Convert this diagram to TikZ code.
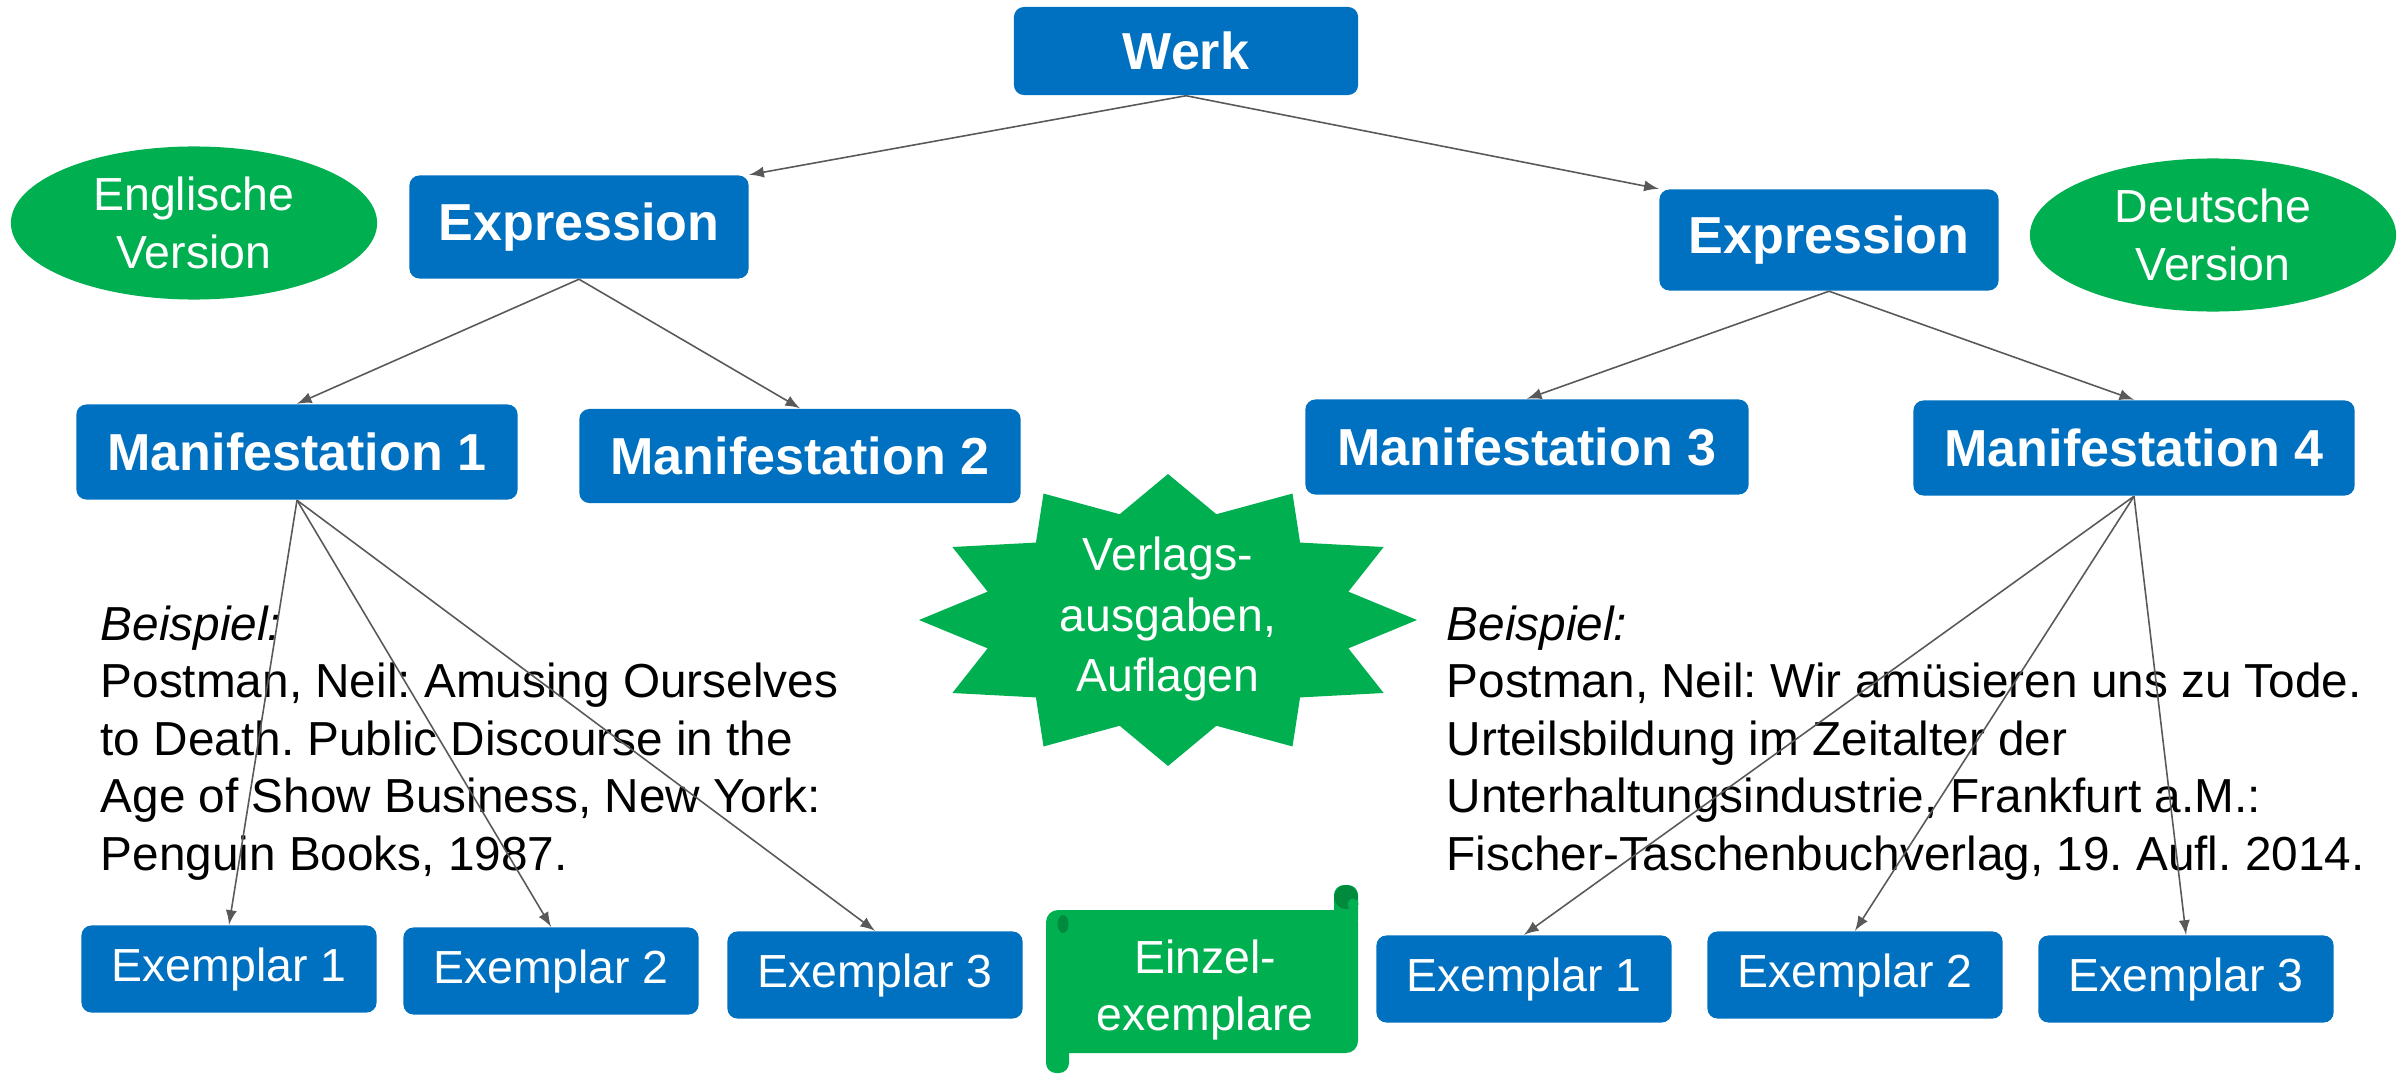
\documentclass[tikz,border=0pt]{standalone}
\usepackage{fontspec}
\setmainfont{Liberation Sans}
\usetikzlibrary{shapes.geometric, arrows}
\definecolor{blu}{HTML}{0070C0}
\definecolor{grn}{HTML}{00B050}
\definecolor{dgrn}{HTML}{008A3E}
\definecolor{gry}{HTML}{595959}
\newcommand{\fsmall}{\fontsize{13.2}{16.4}\selectfont}
\newcommand{\ftext}{\fontsize{13.57}{16.36}\selectfont}
\newcommand{\fbig}{\bfseries\fontsize{14.8}{17.8}\selectfont}
\frenchspacing

\begin{document}
\begin{tikzpicture}[x=0.01cm, y=-0.01cm,
    blk/.style={fill=blu, text=white, rounded corners=0.1cm, inner sep=0pt, font=\fbig},
    ex/.style={fill=blu, text=white, rounded corners=0.1cm, inner sep=0pt, font=\fsmall,
      minimum width=2.95cm, minimum height=0.87cm},
    oval/.style={ellipse, fill=grn, text=white, inner sep=0pt, align=center,
      font=\fontsize{13.2}{16.5}\selectfont, minimum width=3.66cm, minimum height=1.53cm},
    arr/.style={draw=gry, -latex, line width=0.45pt}]
  \useasboundingbox (0,0) rectangle (2407,1073);

  % Werk, Expressionen
  \node[blk, minimum width=3.44cm, minimum height=0.88cm] (werk) at (1186,51) {Werk};
  \node[blk, minimum width=3.39cm, minimum height=1.03cm] (exL) at (579,227) {Expression};
  \node[blk, minimum width=3.39cm, minimum height=1.01cm] (exR) at (1829,240) {Expression};
  \node[oval] (engl) at (194,223) {Englische\\Version};
  \node[oval] (dt) at (2213,235) {Deutsche\\Version};

  % Manifestationen
  \node[blk, minimum width=4.41cm, minimum height=0.95cm] (m1) at (297,452) {Manifestation 1};
  \node[blk, minimum width=4.41cm, minimum height=0.94cm] (m2) at (800,456) {Manifestation 2};
  \node[blk, minimum width=4.43cm, minimum height=0.95cm] (m3) at (1527,447) {Manifestation 3};
  \node[blk, minimum width=4.41cm, minimum height=0.95cm] (m4) at (2134,448) {Manifestation 4};

  % Exemplare
  \node[ex] (eL1) at (229,969) {Exemplar 1};
  \node[ex] (eL2) at (551,971) {Exemplar 2};
  \node[ex] (eL3) at (875,975) {Exemplar 3};
  \node[ex] (eR1) at (1524,979) {Exemplar 1};
  \node[ex] (eR2) at (1855,975) {Exemplar 2};
  \node[ex] (eR3) at (2186,979) {Exemplar 3};

  % Stern
  \fill[grn, shift={(1168,620)}] (249,0)
    \foreach \k [evaluate=\k as \xx using (1-0.25*(\k-2*floor(\k/2)))*249*cos(\k*15),
                 evaluate=\k as \yy using (1-0.25*(\k-2*floor(\k/2)))*146*sin(\k*15)]
      in {1,...,23} {-- (\xx,\yy)} -- cycle;
  \node[text=white, align=center, inner sep=0pt, font=\fontsize{13.2}{17.1}\selectfont]
    (verlag) at (1168,619) {Verlags-\\ausgaben,\\Auflagen};

  % Schriftrolle
  \fill[grn, rounded corners=0.12cm] (1046,910) rectangle (1358,1053);
  \fill[grn, rounded corners=0.1cm] (1334,885) rectangle (1358,930);
  \fill[grn, rounded corners=0.1cm] (1046,1030) rectangle (1069,1073);
  \fill[dgrn] (1346,897) circle (0.12cm);
  \fill[grn] (1353,904) circle (0.055cm);
  \fill[dgrn] (1063,924) ellipse (0.055cm and 0.09cm);
  \node[text=white, align=center, inner sep=0pt, font=\fontsize{13.2}{16.2}\selectfont]
    (einzel) at (1205,990) {Einzel-\\exemplare};

  % Beispiele
  \node[anchor=north west, inner sep=0pt, align=left, font=\ftext] (bspL) at (100,605)
    {\textit{Beispiel:}\\Postman, Neil: Amusing Ourselves\\to Death. Public Discourse in the\\Age of Show Business, New York:\\Penguin Books, 1987.};
  \node[anchor=north west, inner sep=0pt, align=left, font=\ftext] (bspR) at (1446,605)
    {\textit{Beispiel:}\\Postman, Neil: Wir amüsieren uns zu Tode.\\Urteilsbildung im Zeitalter der\\Unterhaltungsindustrie, Frankfurt a.M.:\\Fischer-Taschenbuchverlag, 19. Aufl. 2014.};

  % Pfeile
  \draw[arr] (werk.south) -- (exL.north east);
  \draw[arr] (werk.south) -- (exR.north west);
  \draw[arr] (exL.south) -- (m1.north);
  \draw[arr] (exL.south) -- (m2.north);
  \draw[arr] (exR.south) -- (m3.north);
  \draw[arr] (exR.south) -- (m4.north);
  \foreach \n in {1,2,3} {
    \draw[arr] (m1.south) -- (eL\n.north);
    \draw[arr] (m4.south) -- (eR\n.north);
  }
\end{tikzpicture}
\end{document}
